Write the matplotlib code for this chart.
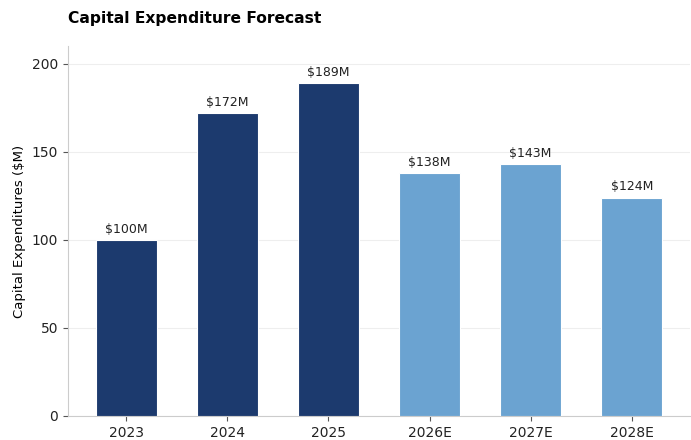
import numpy as np
import matplotlib.pyplot as plt

years = ['2023', '2024', '2025', '2026E', '2027E', '2028E']
capex = [100, 172, 189, 138, 143, 124]
is_estimate = [False, False, False, True, True, True]

actual_color = '#1c3a6e'
estimate_color = '#6ba3d1'
colors = [estimate_color if e else actual_color for e in is_estimate]

fig = plt.figure(figsize=(6.91, 4.40), dpi=100)
ax = fig.add_axes([0.098, 0.055, 0.901, 0.840])

x = np.arange(len(years))
bars = ax.bar(x, capex, width=0.6, color=colors, edgecolor='white', linewidth=0.8, zorder=3)

for b, v in zip(bars, capex):
    ax.annotate(f'${v}M', (b.get_x() + b.get_width() / 2, v),
                xytext=(0, 3), textcoords='offset points',
                ha='center', va='bottom', fontsize=9, color='#222222')

ax.set_xticks(x)
ax.set_xticklabels(years, fontsize=10)
ax.set_ylim(0, 210)
ax.set_yticks([0, 50, 100, 150, 200])
ax.tick_params(axis='y', labelsize=10)
ax.set_ylabel('Capital Expenditures ($M)', fontsize=9.5)
ax.set_title('Capital Expenditure Forecast', loc='left', fontsize=11.2,
             fontweight='bold', pad=17)

ax.yaxis.grid(True, color='#eeeeee', linewidth=0.8, zorder=0)
ax.set_axisbelow(True)
for s in ['top', 'right']:
    ax.spines[s].set_visible(False)
for s in ['left', 'bottom']:
    ax.spines[s].set_color('#cccccc')
ax.tick_params(colors='#555555', labelcolor='#222222')

fig.savefig('out.png', dpi=100)
